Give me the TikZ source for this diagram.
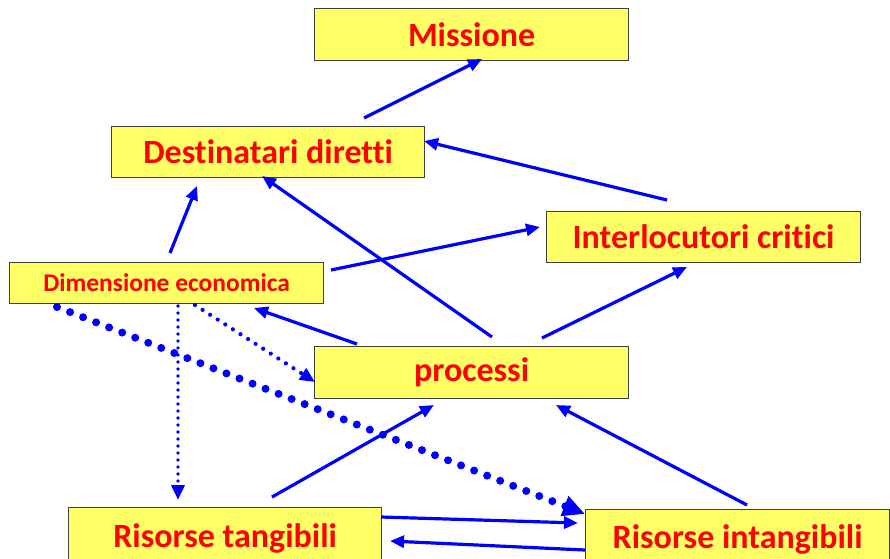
\documentclass[tikz,border=0pt]{standalone}
\usepackage{fontspec}
\setmainfont[Ligatures=NoCommon]{Carlito}
\usetikzlibrary{arrows.meta}
\definecolor{boxyellow}{HTML}{FFFF66}
\definecolor{boxborder}{HTML}{404040}
\definecolor{txtred}{HTML}{FF0000}
\definecolor{arrblue}{HTML}{0000FF}
\tikzset{
  box/.style={draw=boxborder, line width=1.2pt, fill=boxyellow, inner sep=0pt, anchor=north west},
  lbl/.style={text=txtred, font=\bfseries\fontsize{34}{38}\selectfont},
  lblsmall/.style={text=txtred, font=\bfseries\fontsize{25.5}{30}\selectfont},
  conn/.style={draw=arrblue, line width=3.2pt, -{Triangle[length=14pt,width=12pt]}},
  dotsmall/.style={draw=arrblue, line width=4.2pt, line cap=round, dash pattern=on 0pt off 9pt, -{Triangle[length=15pt,width=13pt]}},
  dotbig/.style={draw=arrblue, line width=8pt, line cap=round, dash pattern=on 0pt off 14pt, -{Triangle[length=22pt,width=20pt]}},
}
\begin{document}
\begin{tikzpicture}[x=1pt,y=-1pt]
\useasboundingbox (0,0) rectangle (890,558);
% boxes
\node[box, minimum width=314pt, minimum height=52pt] (mis) at (314,8) {};
\node[lbl] at (mis.center) {Missione};
\node[box, minimum width=313pt, minimum height=51pt] (dest) at (111,126) {};
\node[lbl] at (dest.center) {Destinatari diretti};
\node[box, minimum width=314pt, minimum height=51pt] (inter) at (546,211) {};
\node[lbl] at (inter.center) {Interlocutori critici};
\node[box, minimum width=314pt, minimum height=41pt] (dim) at (9,262) {};
\node[lblsmall] at (dim.center) {Dimensione economica};
\node[box, minimum width=314pt, minimum height=52pt] (proc) at (314,346) {};
\node[lbl] at (proc.center) {processi};
\node[box, minimum width=313pt, minimum height=56pt] (rt) at (68,507) {};
\node[lbl] at ([yshift=-3pt]rt.center) {Risorse tangibili};
\node[box, minimum width=304pt, minimum height=54pt] (ri) at (585,509) {};
\node[lbl] at ([yshift=-3pt]ri.center) {Risorse intangibili};
% connector end points
\coordinate (a1s) at (364,118); \coordinate (a1e) at (482,59);
\coordinate (a2s) at (667,200); \coordinate (a2e) at (424,141);
\coordinate (a3s) at (492,337); \coordinate (a3e) at (262,176);
\coordinate (a4s) at (170,253); \coordinate (a4e) at (197,186);
\coordinate (a5s) at (331,270); \coordinate (a5e) at (540,227);
\coordinate (a6s) at (357,344); \coordinate (a6e) at (254,308);
\coordinate (a7s) at (542,338); \coordinate (a7e) at (687,267);
\coordinate (a8s) at (272,497); \coordinate (a8e) at (434,405);
\coordinate (a9s) at (747,505); \coordinate (a9e) at (556,405);
\coordinate (a10s) at (381,517); \coordinate (a10e) at (578,523);
\coordinate (a11s) at (585,550); \coordinate (a11e) at (390,541);
\coordinate (d1s) at (178,306); \coordinate (d1e) at (178,500);
\coordinate (d2s) at (195,305); \coordinate (d2e) at (315,382);
\coordinate (d3s) at (57,307); \coordinate (d3e) at (585,514);
% connectors
\draw[conn] (a1s) -- (a1e);
\draw[conn] (a2s) -- (a2e);
\draw[conn] (a3s) -- (a3e);
\draw[conn] (a4s) -- (a4e);
\draw[conn] (a5s) -- (a5e);
\draw[conn] (a6s) -- (a6e);
\draw[conn] (a7s) -- (a7e);
\draw[conn] (a8s) -- (a8e);
\draw[conn] (a9s) -- (a9e);
\draw[conn] (a10s) -- (a10e);
\draw[conn] (a11s) -- (a11e);
\draw[dotsmall, line width=3.6pt, dash pattern=on 0pt off 7pt] (d1s) -- (d1e);
\draw[dotsmall] (d2s) -- (d2e);
\draw[dotbig] (d3s) -- (d3e);
\end{tikzpicture}
\end{document}
